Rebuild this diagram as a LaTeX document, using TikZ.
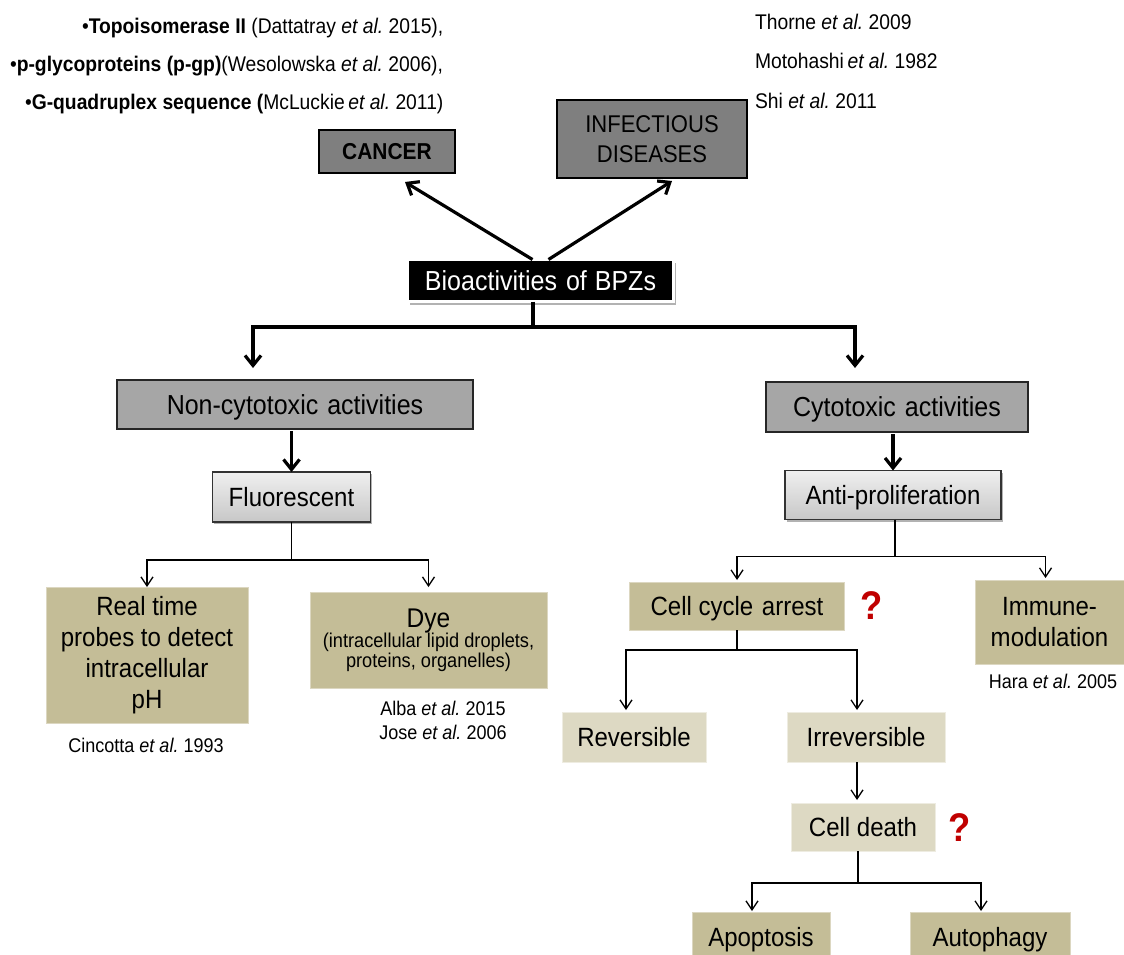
\documentclass[tikz,border=0pt]{standalone}
\usepackage{fontspec}
\setmainfont{Liberation Sans}[FakeStretch=0.91]
\usetikzlibrary{arrows.meta,shadows}

\definecolor{boxdark}{HTML}{7F7F7F}
\definecolor{boxmid}{HTML}{A6A6A6}
\definecolor{tanfill}{HTML}{C4BD97}
\definecolor{tanlight}{HTML}{DDD9C3}
\definecolor{qred}{HTML}{C00000}

\newcommand\myfs[2]{\fontsize{#1}{#2}\selectfont}

\begin{document}
\frenchspacing
\begin{tikzpicture}[x=1pt,y=-1pt,
  every node/.style={inner sep=0pt, outer sep=0pt},
  darkbox/.style={draw=black, line width=1.6pt, fill=boxdark},
  midbox/.style={draw=black!85, line width=1.4pt, fill=boxmid},
  biobox/.style={draw=white, line width=3pt, fill=black, text=white,
    drop shadow={shadow xshift=2pt, shadow yshift=-3pt, opacity=0.3, fill=black}},
  shadebox/.style={draw=black!80, line width=1.2pt, top color=white!94!black,
    bottom color=black!22,
    drop shadow={shadow xshift=1.5pt, shadow yshift=-2pt, opacity=0.3, fill=black}},
  tanbox/.style={fill=tanfill, draw=tanfill!60!white, line width=0.6pt},
  lightbox/.style={fill=tanlight, draw=tanlight!50!white, line width=0.6pt},
  cite/.style={font=\myfs{21.2}{24}},
  smallcite/.style={font=\myfs{19.8}{24}},
  boxtext/.style={font=\myfs{26.4}{31}, text height=19pt, text depth=0pt},
  multitext/.style={font=\myfs{26.4}{31}, align=center},
  bigtext/.style={font=\myfs{27.5}{31}, text height=19.8pt, text depth=0pt},
  qmark/.style={text=qred, font=\bfseries\myfs{40}{40}},
  thickline/.style={line width=3.2pt},
  thickarrow/.style={line width=3.2pt, -{Straight Barb[length=10pt, width=16pt]}},
  thinline/.style={line width=1.3pt},
  thinarrow/.style={line width=1.3pt, -{Straight Barb[length=9pt, width=12pt]}},
]
\clip (0,0) rectangle (1124,954);

% references for the two top boxes
\node[cite, anchor=west] (ref1) at (82,28) {\textbullet\textbf{Topoisomerase II} (Dattatray \textit{et al.} 2015),};
\node[cite, anchor=west] (ref2) at (10,66) {\textbullet\textbf{p-glycoproteins (p-gp)}(Wesolowska \textit{et al.} 2006),};
\node[cite, anchor=west] (ref3) at (25,104) {\textbullet\textbf{G-quadruplex sequence (}McLuckie\,\textit{et al.} 2011)};
\node[cite, anchor=west] (ref4) at (755,22) {Thorne \textit{et al.} 2009};
\node[cite, anchor=west] (ref5) at (755,61) {Motohashi\,\textit{et al.} 1982};
\node[cite, anchor=west] (ref6) at (755,101) {Shi \textit{et al.} 2011};

% top level
\node[darkbox, minimum width=136pt, minimum height=43pt, font=\bfseries\myfs{23}{25}, text height=16.5pt, text depth=0pt] (cancer) at (387,151.5) {CANCER};
\node[darkbox, minimum width=190pt, minimum height=78pt, align=center, font=\myfs{24.2}{30}] (infect) at (652,139) {INFECTIOUS\\DISEASES};
\node[biobox, bigtext, minimum width=266pt, minimum height=42pt] (bio) at (540.5,280.5) {Bioactivities\hspace{2pt} of\hspace{1pt} BPZs};

\draw[thickarrow] ([xshift=-8pt]bio.north) -- ([xshift=18pt,yshift=-9pt]cancer.south);
\draw[thickarrow] ([xshift=8pt]bio.north) -- ([xshift=20pt,yshift=-3pt]infect.south);

% main split
\node[midbox, bigtext, minimum width=356pt, minimum height=49pt] (noncyto) at (295,404.5) {Non-cytotoxic\hspace{2pt} activities};
\node[midbox, bigtext, minimum width=262pt, minimum height=50pt] (cyto) at (897,407) {Cytotoxic\hspace{2pt} activities};

\coordinate (bj) at (533,327);
\coordinate (ncin) at (253,368);
\coordinate (cyin) at (855,368);
\draw[thickline] ([xshift=-7.5pt]bio.south) -- (bj);
\draw[thickarrow] (bj) -| (ncin);
\draw[thickarrow] (bj) -| (cyin);

% non-cytotoxic branch
\node[shadebox, boxtext, minimum width=158pt, minimum height=50pt] (fluor) at (291.5,497) {Fluorescent};
\draw[thickarrow] ([yshift=-2pt]noncyto.south -| fluor.north) -- (fluor.north);

\node[tanbox, multitext, minimum width=202pt, minimum height=136pt] (real) at (147,655) {Real time\\probes to detect\\intracellular\\pH};
\node[tanbox, minimum width=237pt, minimum height=96pt, align=center] (dye) at (428.5,640)
  {\myfs{27}{24}Dye\\[-1pt]\myfs{20}{24}(intracellular lipid droplets,\\\myfs{20}{24}proteins, organelles)};

\coordinate (fj) at ([yshift=-38pt]fluor.south);
\draw[thinline] (fluor.south) -- (fj);
\draw[thinarrow] (fj) -| (real.north);
\draw[thinarrow] (fj) -| ([yshift=5pt]dye.north);

\node[smallcite] (cinc) at (146,745) {Cincotta \textit{et al.} 1993};
\node[smallcite] (alba) at (443,708) {Alba \textit{et al.} 2015};
\node[smallcite] (jose) at (443,732) {Jose \textit{et al.} 2006};

% cytotoxic branch
\node[shadebox, boxtext, minimum width=216pt, minimum height=49pt] (anti) at (893,495) {Anti-proliferation};
\draw[thickarrow] ([yshift=-2pt]anti.north |- cyto.south) -- (anti.north);

\node[tanbox, boxtext, minimum width=215pt, minimum height=48pt] (cca) at (737,606) {Cell cycle\hspace{2pt} arrest};
\node[qmark] (q1) at (872,606) {?};
\node[tanbox, multitext, minimum width=149pt, minimum height=84pt] (immune) at (1049.5,622) {Immune-\\modulation};
\node[smallcite] (hara) at (1053,681) {Hara \textit{et al.} 2005};

\coordinate (aj) at ([xshift=2pt,yshift=-37pt]anti.south);
\draw[thinline] ([xshift=2pt]anti.south) -- (aj);
\draw[thinarrow] (aj) -| ([yshift=2pt]cca.north);
\draw[thinarrow] (aj) -| ([xshift=-4pt,yshift=2pt]immune.north);

\node[lightbox, boxtext, minimum width=144pt, minimum height=50pt] (rev) at (634,737) {Reversible};
\node[lightbox, boxtext, minimum width=158pt, minimum height=50pt] (irr) at (866,737) {Irreversible};

\coordinate (cj) at ([yshift=-20pt]cca.south);
\draw[thinline] (cca.south) -- (cj);
\draw[thinarrow] (cj) -| ([xshift=-8pt,yshift=2pt]rev.north);
\draw[thinarrow] (cj) -| ([xshift=-9pt,yshift=2pt]irr.north);

\node[lightbox, boxtext, minimum width=144pt, minimum height=48pt] (death) at (863,827) {Cell death};
\node[qmark] (q2) at (960,828) {?};
\draw[thinarrow] ([xshift=-9pt]irr.south) -- ([xshift=-9pt,yshift=3pt]irr.south |- death.north);

\node[tanbox, boxtext, minimum width=138pt, minimum height=50pt] (apo) at (761,937) {Apoptosis};
\node[tanbox, boxtext, minimum width=160pt, minimum height=50pt] (auto) at (990,937) {Autophagy};

\coordinate (dj) at ([xshift=-5pt,yshift=-32pt]death.south);
\draw[thinline] ([xshift=-5pt]death.south) -- (dj);
\draw[thinarrow] (dj) -| ([xshift=-9pt,yshift=1pt]apo.north);
\draw[thinarrow] (dj) -| ([xshift=-9pt,yshift=1pt]auto.north);
\end{tikzpicture}
\end{document}
